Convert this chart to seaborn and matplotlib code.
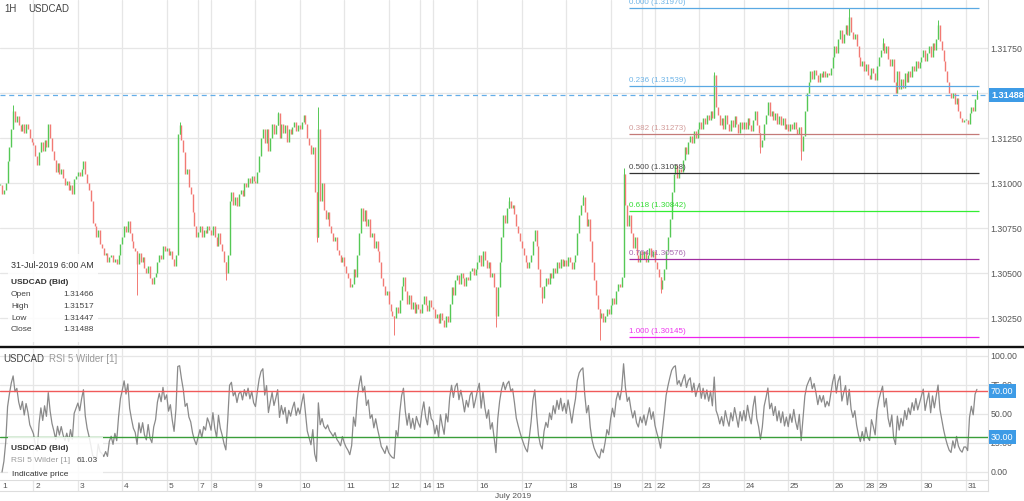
import numpy as np
import pandas as pd
import matplotlib
matplotlib.use("Agg")
import matplotlib.pyplot as plt
from matplotlib.lines import Line2D
from matplotlib.patches import Rectangle
import seaborn as sns

# USDCAD hourly closes, in 0.00001 above 1.30000 (one list per trading week)
week1 = [990, 940, 960, 1000, 1120, 1200, 1300, 1400, 1340, 1370, 1320, 1290, 1330, 1280, 1330, 1300, 1250, 1230,
         1210, 1150, 1100, 1170, 1230, 1180, 1240, 1200, 1330, 1250, 1180, 1130, 1060, 1110, 1050, 1080, 1030, 990, 1010, 960, 990, 940, 1020, 1040,
         1060, 1040, 1080, 1120, 1050, 1000, 960, 900, 780, 760, 700, 740, 660, 640, 600, 610, 560, 590, 600, 560, 580, 550, 600, 660,
         700, 760, 730, 790, 720, 680, 640, 620, 550, 610, 560, 590, 530, 500, 540, 470, 440, 480, 500, 560, 600, 580, 650, 620,
         640, 600, 620, 580, 540, 600, 1270, 1320, 1240, 1170, 1050, 1080, 980, 940, 840, 760, 700,
         730, 760, 700, 740, 720, 760, 740]
week2 = [710, 760, 700, 650, 720, 660, 620, 560, 500, 600, 900, 950, 880, 920, 870, 940, 960, 930, 1000, 980, 1030, 1000, 1040, 1010,
         1000, 1060, 1150, 1250, 1300, 1220, 1300, 1180, 1250, 1330, 1270, 1320, 1390, 1250, 1330, 1280, 1320, 1230, 1300, 1270, 1310, 1340, 1290, 1320,
         1300, 1340, 1380, 1330, 1250, 1210, 1160, 1200, 950, 700, 1300, 900, 1000, 850, 800, 840, 760, 720, 680, 700, 630, 600, 560, 590,
         540, 500, 470, 420, 440, 520, 480, 600, 720, 860, 790, 850, 760, 800, 700, 720, 640, 680, 620, 560, 470, 430, 380, 400,
         330, 290, 260, 250, 310, 280, 350, 430, 480, 400, 330, 380, 300, 340, 280, 330, 300,
         280, 330, 370, 320, 290, 350, 310]
week3 = [300, 250, 270, 220, 280, 240, 200, 260, 230, 330, 420, 380, 460, 490, 440, 500, 470, 430, 480, 460, 510, 530, 490, 520,
         560, 600, 540, 620, 570, 530, 560, 480, 500, 420, 260, 420, 560, 700, 820, 780, 860, 900, 860, 880, 830, 760, 720, 680,
         640, 600, 560, 530, 560, 600, 680, 740, 650, 520, 420, 360, 430, 470, 440, 500, 470, 530, 500, 560, 530, 580, 540, 570,
         540, 590, 560, 520, 560, 600, 720, 820, 880, 920, 840, 760, 800, 680, 560, 460, 380, 300, 250, 280, 230, 260, 300, 270,
         320, 360, 330, 400, 440, 420, 480, 1050, 880, 760, 820, 720, 640, 700, 600, 560, 620,
         580, 620, 560, 600, 640, 590, 620]
week4 = [560, 520, 480, 410, 460, 520, 620, 700, 800, 950, 1050, 1100, 1030, 1080, 1060, 1130, 1200, 1160, 1230, 1260, 1220, 1290, 1250, 1300,
         1340, 1300, 1360, 1330, 1380, 1350, 1400, 1360, 1600, 1420, 1380, 1320, 1360, 1300, 1380, 1330, 1290, 1350, 1310, 1370, 1330, 1280, 1340, 1300,
         1340, 1300, 1360, 1320, 1290, 1350, 1400, 1320, 1280, 1200, 1240, 1330, 1380, 1450, 1370, 1400, 1350, 1390, 1330, 1370, 1320, 1360, 1300, 1330,
         1290, 1330, 1300, 1340, 1300, 1270, 1310, 1180, 1260, 1400, 1500, 1560, 1620, 1580, 1630, 1600, 1560, 1610, 1590, 1620, 1590, 1610, 1600, 1640,
         1700, 1760, 1720, 1800, 1850, 1780, 1830, 1880, 1820, 1920, 1840, 1800, 1830, 1760, 1700, 1650, 1680,
         1620, 1660, 1600, 1580, 1640, 1610, 1570]
week5 = [1650, 1700, 1740, 1780, 1720, 1760, 1690, 1650, 1690, 1560, 1500, 1620, 1520, 1580, 1530, 1610, 1560, 1620, 1590, 1650, 1620, 1680, 1640, 1670,
         1700, 1740, 1680, 1720, 1760, 1700, 1780, 1740, 1800, 1880, 1790, 1740, 1680, 1620, 1560, 1500, 1470, 1500, 1440, 1470, 1400, 1360, 1340, 1350,
         1350, 1330, 1390, 1420, 1400, 1466, 1488]

# hours whose wick reaches well past the body (bar number, extreme price)
wick_bar = [7, 74, 97, 122, 150, 171, 172, 213, 268, 275, 293, 315, 324, 337, 357, 386, 411, 433, 459, 477, 507, 528]
wick_price = [1.31433, 1.30380, 1.31340, 1.30461, 1.31395, 1.30672, 1.31423, 1.30156, 1.30200, 1.30922, 1.30334,
              1.30934, 1.30128, 1.31084, 1.30389, 1.31617, 1.31167, 1.31128, 1.31973, 1.31806, 1.31906, 1.31517]

day_labels = ['1', '2', '3', '4', '5', '7', '8', '9', '10', '11', '12', '14', '15', '16', '17', '18', '19',
              '21', '22', '23', '24', '25', '26', '28', '29', '30', '31']
day_first_bar = [0, 18, 42, 66, 90, 107, 114, 138, 162, 186, 210, 227, 234, 258, 282, 306, 330,
                 347, 354, 378, 402, 426, 450, 467, 474, 498, 522]

fib_ratio = ['0.000', '0.236', '0.382', '0.500', '0.618', '0.764', '1.000']
fib_price = [1.31970, 1.31539, 1.31273, 1.31058, 1.30842, 1.30576, 1.30145]
fib_start_bar = 340

last_price = 1.31488
last_ohlc = ['1.31466', '1.31517', '1.31447', '1.31488']
rsi_last = '61.03'

sns.set_style("white")
plt.rcParams['font.family'] = ['Liberation Sans', 'DejaVu Sans']

closes = 1.3 + np.array(week1 + week2 + week3 + week4 + week5) * 1e-5
opens = np.r_[closes[0], closes[:-1]]
x = np.arange(len(closes))

# RSI 5 (Wilder smoothing)
d = pd.Series(closes).diff()
avg_up = d.clip(lower=0).ewm(alpha=1 / 5, adjust=False).mean()
avg_dn = (-d).clip(lower=0).ewm(alpha=1 / 5, adjust=False).mean()
rsi = 100 - 100 / (1 + avg_up / avg_dn)

W, H = 1024, 501
fig = plt.figure(figsize=(W / 100, H / 100), dpi=100)


def fy(y):
    return 1 - y / H


right = 988 / W
axp = fig.add_axes([0, fy(345), right, 345 / H])
axr = fig.add_axes([0, fy(480), right, (480 - 349) / H])
axd = fig.add_axes([0, fy(491), right, 11 / H])

grid_c = '#e6e6e6'
for ax in (axp, axr, axd):
    ax.set_xlim(-0.1, 534)
    for b in day_first_bar[1:]:
        ax.axvline(b, color=grid_c, lw=0.9, zorder=0)
    for sp in ax.spines.values():
        sp.set_visible(False)
    ax.spines['right'].set_visible(True)
    ax.spines['right'].set_color('#dddddd')
    ax.set_xticks([])

# candles
green, red = '#55c855', '#f27a74'
rise = closes >= opens
lo = np.minimum(opens, closes)
hi = np.maximum(np.maximum(opens, closes), lo + 0.00005)
axp.vlines(x[rise], lo[rise], hi[rise], color=green, lw=1.0, zorder=3)
axp.vlines(x[~rise], lo[~rise], hi[~rise], color=red, lw=1.0, zorder=3)
for b, p in zip(wick_bar, wick_price):
    top = max(p, hi[b])
    bot = min(p, lo[b])
    axp.vlines(b, bot, top, color=green if rise[b] else red, lw=0.7, zorder=3)

axp.set_ylim(1.30100, 1.32017)
yt = [1.3025, 1.305, 1.3075, 1.31, 1.3125, 1.315, 1.3175]
axp.set_yticks(yt)
axp.set_yticklabels(['' if abs(v - 1.315) < 1e-9 else f'{v:.5f}' for v in yt])
axp.yaxis.tick_right()
axp.tick_params(axis='y', length=0, pad=2, labelsize=6.3, labelcolor='#555555')
axp.grid(axis='y', color=grid_c, lw=0.9)
axp.set_axisbelow(True)

# fibonacci levels
fib_line_c = ['#5aa9e3', '#5aa9e3', '#c47a78', '#333333', '#33ee33', '#a02ca0', '#ee22ee']
fib_text_c = ['#6fb5e8', '#6fb5e8', '#d39c9a', '#444444', '#33dd33', '#a868b0', '#ee33ee']
for r, p, lc, tc in zip(fib_ratio, fib_price, fib_line_c, fib_text_c):
    axp.hlines(p, fib_start_bar, 529, color=lc, lw=0.9, zorder=4)
    axp.annotate(f'{r} ({p:.5f})', (fib_start_bar, p), xytext=(0, 1.5), textcoords='offset points',
                 fontsize=5.8, color=tc, va='bottom', ha='left', zorder=5)

axp.axhline(last_price, color='#64aee8', lw=0.9, ls=(0, (4, 3)), zorder=4)

# RSI panel
sns.lineplot(x=x, y=rsi, ax=axr, color='#8a8a8a', lw=0.9, zorder=3)
axr.axhline(70, color='#f05a5a', lw=1.0, zorder=4)
axr.axhline(30, color='#3a9e3a', lw=1.0, zorder=4)
axr.set_ylim(-6.9, 106)
axr.set_yticks([0, 25, 50, 75, 100])
axr.set_yticklabels(['0.00', '25.00', '50.00', '75.00', '100.00'])
axr.yaxis.tick_right()
axr.tick_params(axis='y', length=0, pad=2, labelsize=6.3, labelcolor='#555555')
axr.grid(axis='y', color=grid_c, lw=0.9)
axr.set_xlabel('')
axr.set_ylabel('')

# date band
axd.set_ylim(0, 1)
axd.set_yticks([])
axd.spines['bottom'].set_visible(True)
axd.spines['bottom'].set_color('#dddddd')
axd.spines['top'].set_visible(True)
axd.spines['top'].set_color('#dddddd')
for lab, b in zip(day_labels, day_first_bar):
    axd.text(b + 1.0, 0.45, lab, fontsize=6, color='#555555', va='center', ha='left')
fig.text(513 / W, fy(496), 'July 2019', fontsize=6, color='#555555', ha='center', va='center')

# divider between panels
fig.add_artist(Line2D([0, 1], [fy(347), fy(347)], color='#111111', lw=1.7, transform=fig.transFigure))

# titles
fig.text(4 / W, fy(9), '1H', fontsize=7, color='#444444', va='center')
fig.text(28 / W, fy(9), 'USDCAD', fontsize=7, color='#444444', va='center')
fig.text(3 / W, fy(359), 'USDCAD', fontsize=7, color='#444444', va='center')
fig.text(49 / W, fy(359), 'RSI 5 Wilder [1]', fontsize=7, color='#9a9a9a', va='center')

# value badges on the right axis
badge = dict(boxstyle='square,pad=0.25', fc='#3d9be6', ec='none')
fig.text(991 / W, fy(95), f'{last_price:.5f}', fontsize=6.5, color='white', fontweight='bold',
         va='center', ha='left', bbox=badge)
fig.text(991 / W, fy(391), '70.00', fontsize=6.5, color='white', va='center', ha='left', bbox=badge)
fig.text(991 / W, fy(437), '30.00', fontsize=6.5, color='white', va='center', ha='left', bbox=badge)

# info boxes
fig.add_artist(Rectangle((8 / W, fy(342)), 90 / W, 88 / H, transform=fig.transFigure,
                         fc='white', ec='none', alpha=0.85, zorder=2))
fig.text(11 / W, fy(266), '31-Jul-2019 6:00 AM', fontsize=6.4, color='#333333', va='center')
fig.text(11 / W, fy(283), 'USDCAD (Bid)', fontsize=6, color='#333333', fontweight='bold', va='center')
for k, (lab, val) in enumerate(zip(['Open', 'High', 'Low', 'Close'], last_ohlc)):
    yy = fy(295 + k * 11.5)
    fig.text(11 / W, yy, lab, fontsize=6, color='#444444', va='center')
    fig.text(63 / W, yy, val, fontsize=6, color='#444444', va='center')

fig.add_artist(Rectangle((8 / W, fy(480)), 95 / W, 43 / H, transform=fig.transFigure,
                         fc='white', ec='none', alpha=0.85, zorder=2))
fig.text(11 / W, fy(448), 'USDCAD (Bid)', fontsize=6, color='#333333', fontweight='bold', va='center')
fig.text(11 / W, fy(461), 'RSI 5 Wilder [1]', fontsize=6, color='#9a9a9a', va='center')
fig.text(77 / W, fy(461), rsi_last, fontsize=6, color='#444444', va='center')
fig.text(12 / W, fy(475), 'Indicative price', fontsize=6, color='#333333', va='center')

fig.savefig('out.png', dpi=100, facecolor='white')
